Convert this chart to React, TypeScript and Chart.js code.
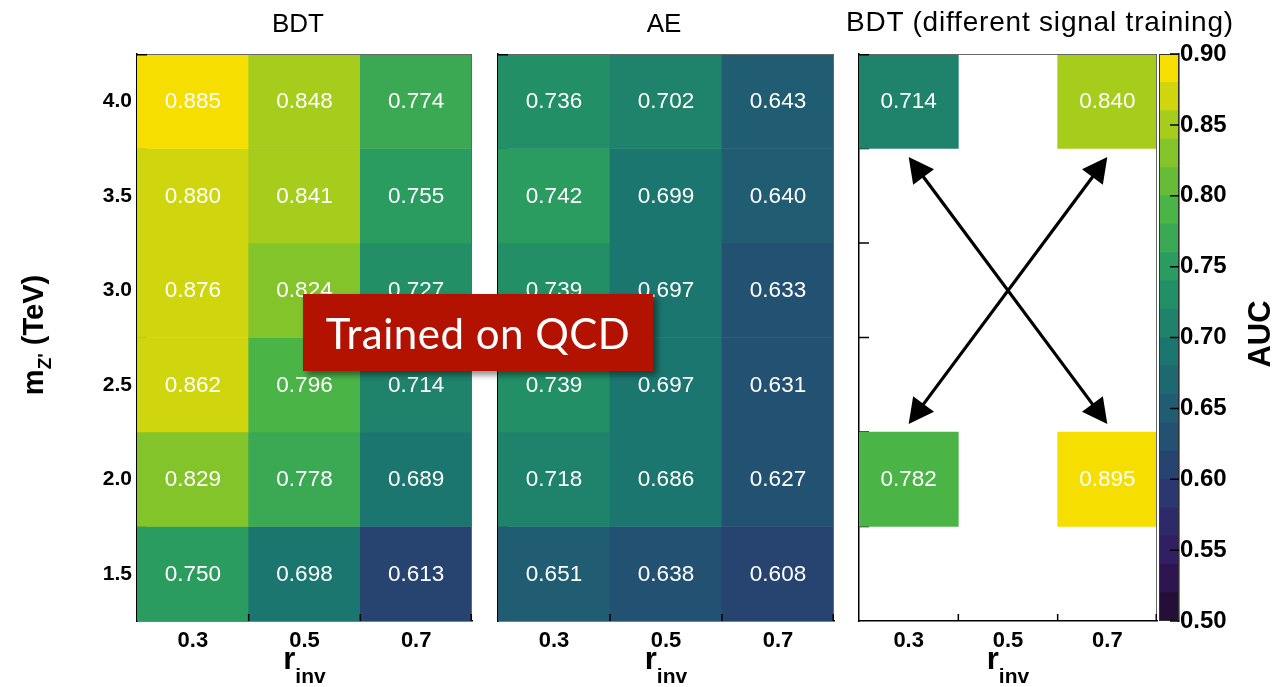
import React, { useEffect, useRef } from "react";
import { Chart, registerables } from "chart.js";
Chart.register(...registerables);

// ---------------- data ----------------
const R_INV_LABELS = ["0.3", "0.5", "0.7"];
const MZ_VALUES = [4.0, 3.5, 3.0, 2.5, 2.0, 1.5];
const MZ_TICKS = [1.5, 2.0, 2.5, 3.0, 3.5, 4.0];

// rows follow MZ_VALUES, columns follow R_INV_LABELS
const BDT_AUC: (number | null)[][] = [
  [0.885, 0.848, 0.774],
  [0.8798, 0.841, 0.755],
  [0.876, 0.824, 0.727],
  [0.862, 0.796, 0.714],
  [0.829, 0.778, 0.689],
  [0.75, 0.698, 0.613],
];
const AE_AUC: (number | null)[][] = [
  [0.736, 0.702, 0.643],
  [0.742, 0.699, 0.6402],
  [0.739, 0.697, 0.633],
  [0.739, 0.697, 0.631],
  [0.718, 0.686, 0.627],
  [0.651, 0.638, 0.608],
];
const BDT_ALT_AUC: (number | null)[][] = [
  [0.714, null, 0.8404],
  [null, null, null],
  [null, null, null],
  [null, null, null],
  [0.782, null, 0.895],
  [null, null, null],
];

// double-headed arrows in panel 3: [r_inv column index, m_Z' value]
const ARROW_A_FROM = [0, 3.705];
const ARROW_A_TO = [2, 2.292];
const ARROW_B_FROM = [2, 3.705];
const ARROW_B_TO = [0, 2.292];

const COLORBAR_EDGES = [
  0.5, 0.52, 0.54, 0.56, 0.58, 0.6, 0.62, 0.64, 0.66, 0.68, 0.7, 0.72, 0.74,
  0.76, 0.78, 0.8, 0.82, 0.84, 0.86, 0.88, 0.9,
];
const COLORBAR_TICKS = [0.5, 0.55, 0.6, 0.65, 0.7, 0.75, 0.8, 0.85, 0.9];

// ROOT kViridis palette stops
const VIRIDIS_R = [26, 51, 43, 33, 28, 35, 74, 144, 246];
const VIRIDIS_G = [9, 24, 55, 87, 118, 150, 180, 200, 222];
const VIRIDIS_B = [30, 96, 112, 114, 112, 101, 72, 35, 0];

const Z_MIN = 0.5;
const Z_MAX = 0.9;
const N_LEVELS = COLORBAR_EDGES.length - 1;

function levelColor(level: number): string {
  const idx = Math.floor(((level + 0.99) * 255) / N_LEVELS);
  const f = Math.min(1, idx / 254);
  const pos = f * 8;
  const i = Math.min(7, Math.floor(pos));
  const t = pos - i;
  const c = (a: number[]) => Math.round(a[i] + (a[i + 1] - a[i]) * t);
  return `rgb(${c(VIRIDIS_R)},${c(VIRIDIS_G)},${c(VIRIDIS_B)})`;
}
function valueLevel(v: number): number {
  const l = Math.floor(((v - Z_MIN) / (Z_MAX - Z_MIN)) * N_LEVELS);
  return Math.max(0, Math.min(N_LEVELS - 1, l));
}

const FONT = "'Liberation Sans', Arial, Helvetica, sans-serif";
const H = 687;
const AREA_TOP = 54;
const AREA_BOTTOM_SPACE = 66;

Chart.defaults.font.family = FONT;

// ---------------- helpers ----------------
type Part = { text: string; font: string; dy: number };
function drawRich(ctx: CanvasRenderingContext2D, parts: Part[], cx: number, cy: number, rot: number) {
  ctx.save();
  let total = 0;
  const widths = parts.map((p) => {
    ctx.font = p.font;
    const w = ctx.measureText(p.text).width;
    total += w;
    return w;
  });
  ctx.translate(cx, cy);
  ctx.rotate(rot);
  ctx.fillStyle = "#000";
  ctx.textBaseline = "alphabetic";
  ctx.textAlign = "left";
  let x = -total / 2;
  parts.forEach((p, i) => {
    ctx.font = p.font;
    ctx.fillText(p.text, x, p.dy);
    x += widths[i];
  });
  ctx.restore();
}

function drawArrowHead(ctx: CanvasRenderingContext2D, tx: number, ty: number, ux: number, uy: number) {
  // (ux, uy) unit vector pointing towards the tip
  const len = 25;
  const half = 13;
  const bx = tx - ux * len;
  const by = ty - uy * len;
  ctx.beginPath();
  ctx.moveTo(tx, ty);
  ctx.lineTo(bx - uy * half, by + ux * half);
  ctx.lineTo(bx + uy * half, by - ux * half);
  ctx.closePath();
  ctx.fill();
}

function drawDoubleArrow(chart: any, from: number[], to: number[]) {
  const { ctx, scales } = chart;
  const x1 = scales.x.getPixelForValue(from[0]);
  const y1 = scales.y.getPixelForValue(from[1]);
  const x2 = scales.x.getPixelForValue(to[0]);
  const y2 = scales.y.getPixelForValue(to[1]);
  const d = Math.hypot(x2 - x1, y2 - y1);
  const ux = (x2 - x1) / d;
  const uy = (y2 - y1) / d;
  ctx.save();
  ctx.strokeStyle = "#000";
  ctx.fillStyle = "#000";
  ctx.lineWidth = 3.2;
  ctx.beginPath();
  ctx.moveTo(x1 + ux * 18, y1 + uy * 18);
  ctx.lineTo(x2 - ux * 18, y2 - uy * 18);
  ctx.stroke();
  drawArrowHead(ctx, x2, y2, ux, uy);
  drawArrowHead(ctx, x1, y1, -ux, -uy);
  ctx.restore();
}

type PanelOpts = {
  grid: (number | null)[][];
  showYLabels: boolean;
  yAxisWidth: number;
  rightPad: number;
  title: string;
  titleX: number; // canvas coords
  showYTitle: boolean;
  arrows: number[][][];
};

function heatmapConfig(o: PanelOpts): any {
  const datasets = MZ_VALUES.map((mz, r) => ({
    label: `mZ ${mz}`,
    data: o.grid[r].map((v) => (v == null ? null : [mz - 0.25, mz + 0.25])),
    backgroundColor: o.grid[r].map((v) => (v == null ? "rgba(0,0,0,0)" : levelColor(valueLevel(v)))),
    borderWidth: 0,
    grouped: false,
    barPercentage: 1,
    categoryPercentage: 1,
  }));

  const yTicks = (chart: any, onlyTop: boolean) => {
    const { ctx, chartArea, scales } = chart;
    ctx.save();
    ctx.strokeStyle = "#000";
    ctx.lineWidth = 1.5;
    ctx.beginPath();
    MZ_VALUES.forEach((mz, i) => {
      if (onlyTop && i !== 0) return;
      const y = scales.y.getPixelForValue(mz + 0.25) + (i === 0 ? 0.75 : 0);
      ctx.moveTo(chartArea.left, y);
      ctx.lineTo(chartArea.left + 10, y);
    });
    ctx.stroke();
    ctx.restore();
  };

  const panelPlugin = {
    id: "panelDeco",
    beforeDatasetsDraw(chart: any) {
      yTicks(chart, false);
    },
    afterDatasetsDraw(chart: any) {
      const { ctx, chartArea, scales } = chart;
      const { left, right, top, bottom } = chartArea;
      const xs = scales.x;
      const ys = scales.y;
      ctx.save();
      // cell values
      ctx.fillStyle = "#fff";
      ctx.font = `22.5px ${FONT}`;
      ctx.textAlign = "center";
      ctx.textBaseline = "middle";
      MZ_VALUES.forEach((mz, r) => {
        o.grid[r].forEach((v, c) => {
          if (v == null) return;
          ctx.fillText(v.toFixed(3), xs.getPixelForValue(c), ys.getPixelForValue(mz) + 1);
        });
      });
      // top / right frame
      ctx.strokeStyle = "#666";
      ctx.lineWidth = 1;
      ctx.beginPath();
      ctx.moveTo(left, top + 0.5);
      ctx.lineTo(right, top + 0.5);
      ctx.moveTo(right - 0.5, top);
      ctx.lineTo(right - 0.5, bottom);
      ctx.stroke();
      // x ticks at bin edges
      ctx.strokeStyle = "#000";
      ctx.lineWidth = 1.5;
      ctx.beginPath();
      const cw = xs.getPixelForValue(1) - xs.getPixelForValue(0);
      for (let c = 1; c <= R_INV_LABELS.length; c++) {
        const x = c < R_INV_LABELS.length ? xs.getPixelForValue(c) - cw / 2 : right - 0.75;
        ctx.moveTo(x, bottom);
        ctx.lineTo(x, bottom - 7);
      }
      ctx.stroke();
      ctx.restore();
      yTicks(chart, true);
      o.arrows.forEach((a) => drawDoubleArrow(chart, a[0], a[1]));
    },
    afterDraw(chart: any) {
      const { ctx, chartArea } = chart;
      if (o.title) {
        ctx.save();
        ctx.fillStyle = "#000";
        ctx.font = `26px ${FONT}`;
        ctx.textAlign = "center";
        ctx.textBaseline = "alphabetic";
        ctx.fillText(o.title, o.titleX, 32);
        ctx.restore();
      }
      const cx = (chartArea.left + chartArea.right) / 2;
      drawRich(ctx, [
        { text: "r", font: `bold 31px ${FONT}`, dy: 0 },
        { text: "inv", font: `bold 21px ${FONT}`, dy: 14 },
      ], cx, 669, 0);
      if (o.showYTitle) {
        drawRich(ctx, [
          { text: "m", font: `bold 29px ${FONT}`, dy: 0 },
          { text: "Z'", font: `bold 19px ${FONT}`, dy: 8 },
          { text: " (TeV)", font: `bold 29px ${FONT}`, dy: 0 },
        ], 43, 335, -Math.PI / 2);
      }
    },
  };

  return {
    type: "bar",
    data: { labels: R_INV_LABELS, datasets },
    options: {
      responsive: false,
      animation: false,
      devicePixelRatio: 1,
      layout: { padding: { top: AREA_TOP, right: o.rightPad, left: 0, bottom: 0 } },
      plugins: { legend: { display: false }, tooltip: { enabled: false }, title: { display: false } },
      scales: {
        x: {
          type: "category",
          offset: true,
          z: 1,
          grid: { display: false, drawTicks: false },
          border: { display: true, color: "#000", width: 1.5 },
          ticks: { color: "#000", font: { size: 22, weight: "bold" }, padding: 7, maxRotation: 0 },
          afterFit: (s: any) => { s.height = AREA_BOTTOM_SPACE; },
        },
        y: {
          type: "linear",
          min: 1.25,
          max: 4.25,
          z: 1,
          grid: { display: false, drawTicks: false },
          border: { display: true, color: "#000", width: 1.5 },
          afterBuildTicks: (s: any) => { s.ticks = MZ_TICKS.map((v) => ({ value: v })); },
          ticks: {
            display: o.showYLabels,
            color: "#000",
            font: { size: 21, weight: "bold" },
            padding: 5,
            callback: (v: any) => Number(v).toFixed(1),
          },
          afterFit: (s: any) => { s.width = o.yAxisWidth; },
        },
      },
    },
    plugins: [panelPlugin],
  };
}

function colorbarConfig(): any {
  const datasets = COLORBAR_EDGES.slice(0, -1).map((lo, i) => ({
    label: `level ${i}`,
    data: [[lo, COLORBAR_EDGES[i + 1]]],
    backgroundColor: levelColor(i),
    borderWidth: 0,
    grouped: false,
    barPercentage: 1,
    categoryPercentage: 1,
  }));
  const cbPlugin = {
    id: "cbDeco",
    afterDatasetsDraw(chart: any) {
      const { ctx, chartArea, scales } = chart;
      const { left, right, top, bottom } = chartArea;
      ctx.save();
      ctx.strokeStyle = "#333";
      ctx.lineWidth = 1;
      ctx.strokeRect(left + 0.5, top + 0.5, right - left - 1, bottom - top - 1);
      ctx.strokeStyle = "#000";
      ctx.lineWidth = 1.5;
      ctx.beginPath();
      COLORBAR_TICKS.forEach((t) => {
        const y = scales.y.getPixelForValue(t);
        ctx.moveTo(right, y);
        ctx.lineTo(right - 9, y);
      });
      ctx.stroke();
      ctx.restore();
    },
    afterDraw(chart: any) {
      drawRich(chart.ctx, [{ text: "AUC", font: `bold 31px ${FONT}`, dy: 0 }], 120, 334, -Math.PI / 2);
    },
  };
  return {
    type: "bar",
    data: { labels: ["AUC"], datasets },
    options: {
      responsive: false,
      animation: false,
      devicePixelRatio: 1,
      layout: { padding: { top: AREA_TOP, left: 9, right: 0, bottom: AREA_BOTTOM_SPACE } },
      plugins: { legend: { display: false }, tooltip: { enabled: false } },
      scales: {
        x: { type: "category", display: false, offset: true },
        y: {
          type: "linear",
          position: "right",
          min: Z_MIN,
          max: Z_MAX,
          z: 1,
          grid: { display: false, drawTicks: false },
          border: { display: true, color: "#000", width: 1.5 },
          afterBuildTicks: (s: any) => { s.ticks = COLORBAR_TICKS.map((v) => ({ value: v })); },
          ticks: {
            color: "#000",
            font: { size: 24, weight: "bold" },
            padding: 1,
            callback: (v: any) => Number(v).toFixed(2),
          },
          afterFit: (s: any) => { s.width = 94; },
        },
      },
    },
    plugins: [cbPlugin],
  };
}

function ChartCanvas({ left, width, make }: { left: number; width: number; make: () => any }) {
  const ref = useRef<HTMLCanvasElement | null>(null);
  useEffect(() => {
    if (!ref.current) return;
    const chart = new Chart(ref.current, make());
    return () => chart.destroy();
  }, []);
  return (
    <canvas
      ref={ref}
      width={width}
      height={H}
      style={{ position: "absolute", left, top: 0, width, height: H }}
    />
  );
}

export default function App() {
  return (
    <div style={{ position: "absolute", left: 0, top: 0, width: 1273, height: H, background: "#fff", overflow: "hidden" }}>
      <ChartCanvas
        left={0}
        width={480}
        make={() =>
          heatmapConfig({
            grid: BDT_AUC, showYLabels: true, yAxisWidth: 137, rightPad: 8,
            title: "BDT", titleX: 298, showYTitle: true, arrows: [],
          })
        }
      />
      <ChartCanvas
        left={480}
        width={360}
        make={() =>
          heatmapConfig({
            grid: AE_AUC, showYLabels: false, yAxisWidth: 18, rightPad: 6,
            title: "AE", titleX: 184, showYTitle: false, arrows: [],
          })
        }
      />
      <ChartCanvas
        left={840}
        width={318}
        make={() =>
          heatmapConfig({
            grid: BDT_ALT_AUC, showYLabels: false, yAxisWidth: 19, rightPad: 1,
            title: "", titleX: 0, showYTitle: false,
            arrows: [[ARROW_A_FROM, ARROW_A_TO], [ARROW_B_FROM, ARROW_B_TO]],
          })
        }
      />
      <ChartCanvas left={1150} width={123} make={colorbarConfig} />
      <div
        style={{
          position: "absolute", left: 840, top: 2, width: 400, height: 40,
          fontFamily: FONT, fontSize: 28, color: "#000", textAlign: "center", lineHeight: "40px",
          whiteSpace: "nowrap", letterSpacing: "0.8px",
        }}
      >
        BDT (different signal training)
      </div>
      <div
        style={{
          position: "absolute", left: 303, top: 294, width: 350, height: 77,
          background: "#b31200", boxShadow: "4px 4px 6px rgba(0,0,0,0.45)",
          color: "#fff", fontFamily: "Lato, 'Open Sans', sans-serif", fontSize: 42,
          display: "flex", alignItems: "center", justifyContent: "center",
          letterSpacing: "0.5px",
        }}
      >
        Trained on QCD
      </div>
    </div>
  );
}
